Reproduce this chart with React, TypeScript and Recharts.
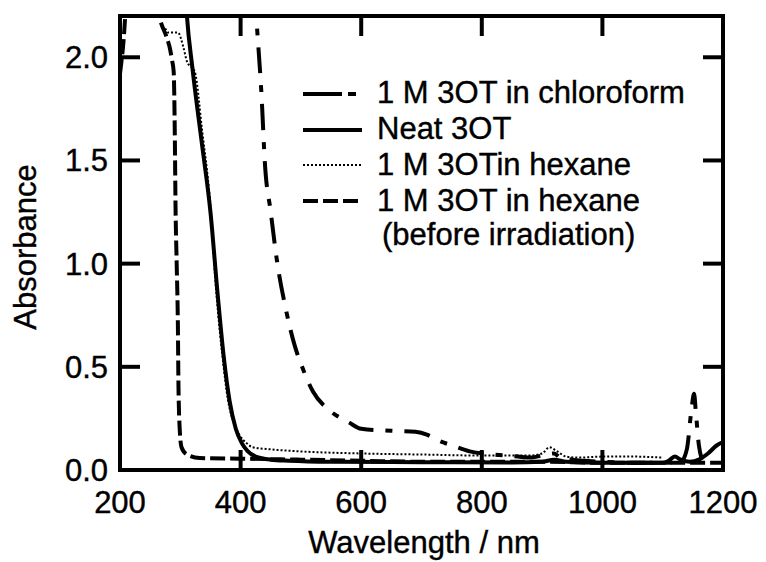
import React from "react";
import { LineChart, Line, XAxis, YAxis, Legend } from "recharts";

const FONT = '"Liberation Sans", Arial, Helvetica, sans-serif';
const FS = 31;
const textStyle = { fontSize: FS, fontFamily: FONT, fill: "#000", stroke: "#000", strokeWidth: 0.4 };

const xTicks = [200, 400, 600, 800, 1000, 1200];
const yTicks = [0, 0.5, 1.0, 1.5, 2.0];

// 1 M 3OT in chloroform (dash-dot)
const chloroformNm = [418, 426, 435, 440, 450, 461, 475, 490, 502, 520, 547, 580, 600, 650, 690, 710, 730, 750, 780, 820, 860, 880, 900, 920, 930, 950, 1000, 1050, 1100, 1130, 1140, 1148, 1152, 1155, 1160, 1165];
const chloroformAbs = [2.6, 2.2, 1.8, 1.5, 1.25, 1.0, 0.78, 0.6, 0.5, 0.38, 0.29, 0.23, 0.2, 0.19, 0.185, 0.17, 0.14, 0.12, 0.09, 0.075, 0.065, 0.06, 0.07, 0.08, 0.06, 0.05, 0.04, 0.035, 0.035, 0.04, 0.1, 0.3, 0.37, 0.28, 0.12, 0.05];

// Neat 3OT (solid)
const neatNm = [305, 311, 320, 335, 350, 362, 372, 382, 392, 402, 412, 425, 450, 480, 550, 700, 850, 900, 920, 940, 1000, 1050, 1100, 1110, 1120, 1130, 1145, 1160, 1175, 1190, 1200];
const neatAbs = [2.5, 2.2, 1.95, 1.6, 1.25, 0.85, 0.55, 0.33, 0.2, 0.13, 0.09, 0.065, 0.05, 0.045, 0.04, 0.038, 0.036, 0.04, 0.05, 0.04, 0.035, 0.035, 0.035, 0.045, 0.065, 0.05, 0.04, 0.05, 0.08, 0.12, 0.135];

// 1 M 3OT in hexane (dotted)
const hexaneNm = [275, 280, 296, 305, 311, 324, 336, 349, 360, 370, 379, 390, 398, 410, 420, 450, 500, 600, 700, 800, 880, 900, 912, 925, 940, 960, 1000, 1050, 1100];
const hexaneAbs = [2.14, 2.12, 2.12, 2.05, 1.98, 1.93, 1.65, 1.31, 0.85, 0.55, 0.34, 0.22, 0.17, 0.13, 0.11, 0.1, 0.09, 0.08, 0.075, 0.07, 0.07, 0.08, 0.11, 0.09, 0.065, 0.06, 0.065, 0.065, 0.06];

// 1 M 3OT in hexane, before irradiation (dashed)
const beforeNm = [200, 205, 212, 230, 255, 262, 266, 277, 283, 286, 289, 291, 292, 294, 296, 297, 299, 302, 311, 332, 400, 500, 600, 700, 800, 900, 1000, 1100, 1200];
const beforeAbs = [1.92, 2.05, 2.3, 2.4, 2.35, 2.25, 2.19, 2.1, 2.04, 1.99, 1.93, 1.6, 1.3, 1.0, 0.7, 0.4, 0.2, 0.11, 0.075, 0.058, 0.055, 0.05, 0.045, 0.04, 0.04, 0.04, 0.035, 0.035, 0.035];

const toPoints = (nm: number[], abs: number[]) => nm.map((x, i) => ({ x, y: abs[i] }));

const series = [
  { name: "1 M 3OT in chloroform", data: toPoints(chloroformNm, chloroformAbs), width: 4, dash: "26 12 7 12", legendDash: "39 6 8 10" },
  { name: "Neat 3OT", data: toPoints(neatNm, neatAbs), width: 4, dash: undefined, legendDash: undefined },
  { name: "1 M 3OTin hexane", data: toPoints(hexaneNm, hexaneAbs), width: 2, dash: "2 2", legendDash: "2 2" },
  { name: "1 M 3OT in hexane", data: toPoints(beforeNm, beforeAbs), width: 4, dash: "15 5", legendDash: "15 5" },
];

const BottomTick = (props: any) => {
  const { x, y, payload } = props;
  return (
    <g>
      <line x1={x} y1={y} x2={x} y2={y - 20} stroke="#000" strokeWidth={4} />
      <text x={x} y={y + 43} textAnchor="middle" {...textStyle}>
        {payload.value}
      </text>
    </g>
  );
};

const TopTick = (props: any) => {
  const { x, y } = props;
  return <line x1={x} y1={y} x2={x} y2={y + 20} stroke="#000" strokeWidth={4} />;
};

const LeftTick = (props: any) => {
  const { x, y, payload } = props;
  return (
    <g>
      <line x1={x} y1={y} x2={x + 20} y2={y} stroke="#000" strokeWidth={4} />
      <text x={x - 12} y={y + 11} textAnchor="end" {...textStyle}>
        {Number(payload.value).toFixed(1)}
      </text>
    </g>
  );
};

const RightTick = (props: any) => {
  const { x, y } = props;
  return <line x1={x} y1={y} x2={x - 20} y2={y} stroke="#000" strokeWidth={4} />;
};

const lineY = [94, 130, 165, 201];
const textY = [103, 139, 175, 211];

const renderLegend = () => (
  <svg width={766} height={260} style={{ display: "block" }}>
    {series.map((s, i) => (
      <g key={s.name}>
        <line x1={303} x2={362} y1={lineY[i]} y2={lineY[i]} stroke="#000" strokeWidth={s.width} strokeDasharray={s.legendDash} />
        <text x={377} y={textY[i]} {...textStyle}>
          {s.name}
        </text>
      </g>
    ))}
    <text x={382} y={245} {...textStyle}>
      (before irradiation)
    </text>
  </svg>
);

const axisLine = { stroke: "#000", strokeWidth: 4, strokeLinecap: "square" as const };

export default function App() {
  return (
    <div style={{ position: "absolute", left: 0, top: 0, background: "#fff" }}>
      <LineChart width={766} height={562} margin={{ top: 0, right: 0, bottom: 0, left: 0 }}>
        <XAxis
          xAxisId="bottom"
          dataKey="x"
          type="number"
          domain={[200, 1200]}
          ticks={xTicks}
          height={92}
          tickSize={0}
          tickMargin={0}
          tickLine={false}
          axisLine={axisLine}
          tick={<BottomTick />}
          interval={0}
          allowDataOverflow
          label={{
            content: () => (
              <text x={424} y={553} textAnchor="middle" {...textStyle}>
                Wavelength / nm
              </text>
            ),
          }}
        />
        <XAxis
          xAxisId="top"
          orientation="top"
          dataKey="x"
          type="number"
          domain={[200, 1200]}
          ticks={xTicks}
          height={16}
          tickSize={0}
          tickMargin={0}
          tickLine={false}
          axisLine={axisLine}
          tick={<TopTick />}
          interval={0}
          allowDataOverflow
        />
        <YAxis
          yAxisId="left"
          type="number"
          domain={[0, 2.2]}
          ticks={yTicks}
          width={120}
          tickSize={0}
          tickMargin={0}
          tickLine={false}
          axisLine={axisLine}
          tick={<LeftTick />}
          interval={0}
          allowDataOverflow
          label={{
            content: () => (
              <text x={36} y={247} transform="rotate(-90 36 247)" textAnchor="middle" {...textStyle}>
                Absorbance
              </text>
            ),
          }}
        />
        <YAxis
          yAxisId="right"
          orientation="right"
          type="number"
          domain={[0, 2.2]}
          ticks={yTicks}
          width={43}
          tickSize={0}
          tickMargin={0}
          tickLine={false}
          axisLine={axisLine}
          tick={<RightTick />}
          interval={0}
          allowDataOverflow
        />
        <Legend content={renderLegend} layout="vertical" align="center" verticalAlign="middle" wrapperStyle={{ top: 0, left: 0 }} />
        {series.map((s) => (
          <Line
            key={s.name}
            xAxisId="bottom"
            yAxisId="left"
            data={s.data}
            dataKey="y"
            name={s.name}
            type="monotone"
            stroke="#000"
            strokeWidth={s.width}
            strokeDasharray={s.dash}
            dot={false}
            activeDot={false}
            isAnimationActive={false}
          />
        ))}
      </LineChart>
    </div>
  );
}
